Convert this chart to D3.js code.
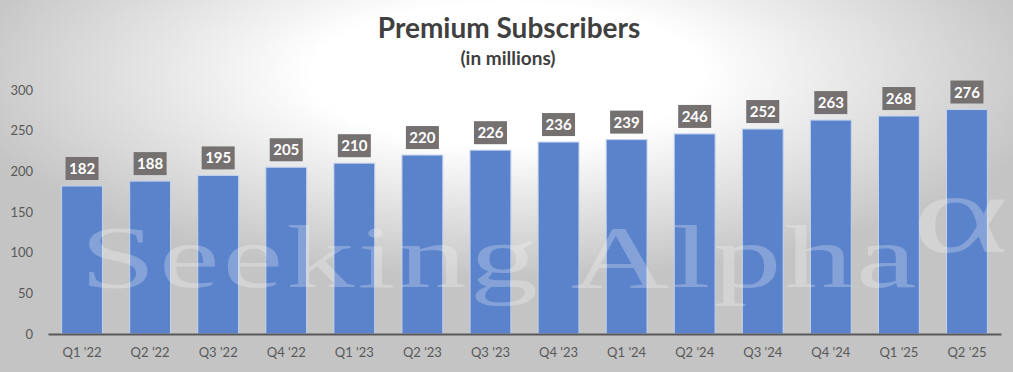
<!DOCTYPE html>
<html lang="en">
<head>
<meta charset="UTF-8">
<title>Premium Subscribers</title>
<script src="https://cdn.jsdelivr.net/npm/d3@7"></script>
<style>
  html, body { margin: 0; padding: 0; background: #fff; }
  svg { display: block; }
</style>
</head>
<body>
<div id="chart"></div>
<script>
const quarters = ["Q1 '22", "Q2 '22", "Q3 '22", "Q4 '22", "Q1 '23", "Q2 '23", "Q3 '23",
                  "Q4 '23", "Q1 '24", "Q2 '24", "Q3 '24", "Q4 '24", "Q1 '25", "Q2 '25"];
const subscribers = [182, 188, 195, 205, 210, 220, 226, 236, 239, 246, 252, 263, 268, 276];
const yTicks = [0, 50, 100, 150, 200, 250, 300];

const width = 1013;
const height = 372;
const marginTop = 90;
const marginBottom = 38;
const marginLeft = 48;
const marginRight = 12;
const font = "Lato, 'Open Sans', sans-serif";

const data = quarters.map((q, i) => ({q, v: subscribers[i]}));

const svg = d3.select("#chart").append("svg")
    .attr("width", width)
    .attr("height", height);

// background: radial grey fade
const defs = svg.append("defs");
const grad = defs.append("radialGradient")
    .attr("id", "bg")
    .attr("cx", 0.5).attr("cy", 0.2).attr("r", 0.55);
grad.append("stop").attr("offset", 0).attr("stop-color", "#ffffff");
grad.append("stop").attr("offset", 0.35).attr("stop-color", "#ffffff");
grad.append("stop").attr("offset", 1).attr("stop-color", "#c4c4c4");

svg.append("rect")
    .attr("width", width)
    .attr("height", height)
    .attr("fill", "url(#bg)");

const x = d3.scaleBand()
    .domain(quarters)
    .range([marginLeft, width - marginRight])
    .paddingInner(0.4)
    .paddingOuter(0.2);

const y = d3.scaleLinear()
    .domain([0, 300])
    .range([height - marginBottom, marginTop]);

// title
svg.append("text")
    .attr("x", 509).attr("y", 38)
    .attr("text-anchor", "middle")
    .attr("font-family", font)
    .attr("font-weight", "bold")
    .attr("font-size", 28)
    .attr("fill", "#404040")
    .text("Premium Subscribers");

svg.append("text")
    .attr("x", 508).attr("y", 65)
    .attr("text-anchor", "middle")
    .attr("font-family", font)
    .attr("font-weight", "bold")
    .attr("font-size", 19)
    .attr("fill", "#404040")
    .text("(in millions)");

// y axis labels (no line)
svg.append("g")
    .attr("transform", `translate(${marginLeft},0)`)
    .call(d3.axisLeft(y).tickValues(yTicks).tickSize(0).tickPadding(15))
    .call(g => g.select(".domain").remove())
    .call(g => g.selectAll("text")
        .attr("font-family", font)
        .attr("font-size", 13)
        .attr("fill", "#595959"));

// bars
svg.append("g")
    .selectAll("rect")
    .data(data)
    .join("rect")
    .attr("x", d => x(d.q))
    .attr("y", d => y(d.v))
    .attr("width", x.bandwidth())
    .attr("height", d => y(0) - y(d.v))
    .attr("fill", "#5b83cb")
    .attr("stroke", "#c3d3ee")
    .attr("stroke-width", 1);

// x axis
svg.append("g")
    .attr("transform", `translate(0,${y(0)})`)
    .call(d3.axisBottom(x).tickSize(0).tickPadding(14))
    .call(g => g.select(".domain")
        .attr("stroke", "#595959")
        .attr("stroke-width", 2))
    .call(g => g.selectAll("text")
        .attr("font-family", font)
        .attr("font-size", 13)
        .attr("fill", "#595959"));

// watermark
const wm = svg.append("g")
    .attr("fill", "#ffffff")
    .attr("fill-opacity", 0.25)
    .attr("font-family", "'Liberation Serif', 'DejaVu Serif', serif");

wm.append("text")
    .attr("transform", "translate(80,287) scale(1.55,1)")
    .attr("font-size", 88)
    .attr("letter-spacing", 2)
    .text("Seeking Alpha");

wm.append("text")
    .attr("transform", "translate(912,252) scale(1.6,1)")
    .attr("font-size", 115)
    .text("α");

// value labels
const lab = svg.append("g")
    .selectAll("g")
    .data(data)
    .join("g")
    .attr("transform", d => `translate(${x(d.q) + x.bandwidth() / 2},${y(d.v) - 5})`);

lab.append("rect")
    .attr("x", -16.5)
    .attr("y", -24)
    .attr("width", 33)
    .attr("height", 23)
    .attr("fill", "#767171");

lab.append("text")
    .attr("y", -7)
    .attr("text-anchor", "middle")
    .attr("font-family", font)
    .attr("font-weight", "bold")
    .attr("font-size", 15)
    .attr("fill", "#ffffff")
    .text(d => d.v);
</script>
</body>
</html>
